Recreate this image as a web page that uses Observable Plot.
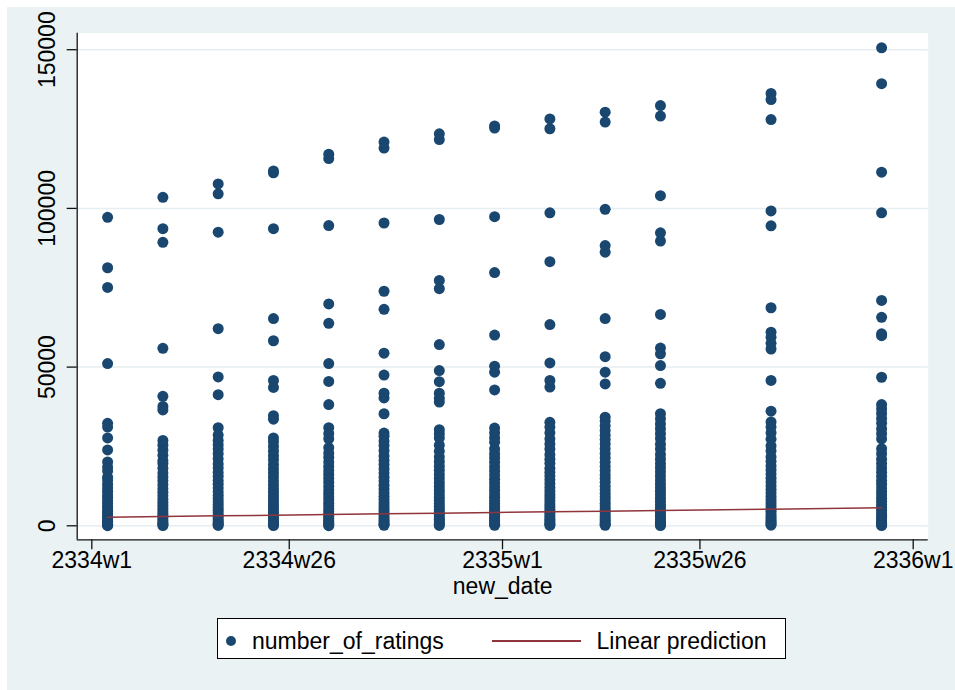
<!DOCTYPE html>
<html>
<head>
<meta charset="utf-8">
<script src="https://cdn.jsdelivr.net/npm/d3@7"></script>
<script src="https://cdn.jsdelivr.net/npm/@observablehq/plot@0.6"></script>
<style>
html, body { margin: 0; padding: 0; background: #ffffff; }
#page { position: relative; width: 955px; height: 690px; overflow: hidden; background: #ffffff;
        font-family: "Liberation Sans", Arial, sans-serif; color: #000; }
#chart { position: absolute; left: 7px; top: 7px; }
#chart svg { display: block; }
.lg-box { position: absolute; left: 217px; top: 618px; width: 567px; height: 39px;
          border: 1.5px solid #000; background: #fff; }
.lg-dot { position: absolute; left: 225.6px; top: 635.5px; width: 10px; height: 10px;
          border-radius: 50%; background: #1a476f; }
.lg-line { position: absolute; left: 492px; top: 640px; width: 89px; height: 1.5px; background: #90353b; }
.lg-text { position: absolute; top: 630px; font-size: 23px; line-height: 23px; white-space: nowrap; }
</style>
</head>
<body>
<div id="page">
  <div id="chart"></div>
  <div class="lg-box"></div>
  <div class="lg-dot"></div>
  <div class="lg-text" id="lg1" style="left:252px"></div>
  <div class="lg-line"></div>
  <div class="lg-text" id="lg2" style="left:596.5px"></div>
</div>
<script>
// ---- data ----
const seriesName = "number_of_ratings";
const fitName = "Linear prediction";
const xTitle = "new_date";

// Stata weekly dates, counted in weeks from 2334w1
const xTicks = [0, 25, 52, 77, 104];
const xTickLabels = ["2334w1", "2334w26", "2335w1", "2335w26", "2336w1"];
const yTicks = [0, 50000, 100000, 150000];
const xDomain = [-1.85, 105.9];
const yDomain = [-4411, 155200];

const weeks = [2, 9, 16, 23, 30, 37, 44, 51, 58, 65, 72, 86, 100];

const ratingsW2 = [97200, 81300, 75100, 51100, 32300, 31100, 27700, 23900, 20100, 18500, 17300, 15300, 14400, 13100, 12000, 10900, 9800, 8900, 7900, 7000, 6100, 5300, 4500, 3800, 3100, 2500, 1900, 1400, 900, 500, 200, 50];
const ratingsW9 = [103500, 93600, 89300, 55900, 40800, 37600, 36500, 26900, 25400, 23800, 22200, 20500, 19600, 18100, 16600, 15400, 14200, 12900, 11700, 10600, 9500, 8400, 7400, 6500, 5600, 4700, 3900, 3200, 2500, 1800, 1200, 700, 300, 80];
const ratingsW16 = [107700, 104600, 92500, 62100, 46900, 41300, 30900, 28600, 26900, 25500, 24200, 22700, 21100, 19500, 18200, 16800, 15600, 14300, 13100, 11900, 10700, 9600, 8600, 7600, 6700, 5800, 4900, 4100, 3300, 2600, 1900, 1300, 800, 400, 100];
const ratingsW23 = [111800, 111200, 93600, 65300, 58300, 45800, 43600, 34700, 33600, 27700, 26500, 25000, 23500, 22100, 20800, 19300, 17900, 16700, 15400, 14100, 12900, 11700, 10600, 9500, 8500, 7500, 6600, 5700, 4800, 4000, 3200, 2500, 1800, 1200, 700, 300, 60];
const ratingsW30 = [117100, 115700, 94600, 69900, 63800, 51100, 45500, 38200, 30900, 29000, 27400, 24600, 22900, 21600, 20100, 18700, 17400, 16200, 14900, 13700, 12500, 11300, 10200, 9100, 8100, 7100, 6200, 5300, 4500, 3700, 3000, 2300, 1700, 1100, 600, 250, 50];
const ratingsW37 = [120900, 119000, 95400, 73900, 68200, 54400, 47500, 41800, 40300, 35300, 29200, 28200, 26700, 25300, 23700, 22000, 20600, 19300, 18000, 16600, 15300, 14100, 12800, 11600, 10400, 9300, 8300, 7300, 6300, 5400, 4500, 3700, 2900, 2200, 1600, 1000, 500, 150];
const ratingsW44 = [123500, 121700, 96500, 77300, 74700, 57100, 48900, 45400, 41800, 40200, 39000, 30300, 29000, 27700, 25400, 23500, 21700, 20200, 18800, 17500, 16200, 14900, 13600, 12400, 11200, 10100, 9000, 8000, 7000, 6100, 5200, 4400, 3600, 2800, 2100, 1500, 900, 450, 100];
const ratingsW51 = [126000, 125300, 97400, 79800, 60100, 50300, 48400, 42800, 30800, 29300, 27700, 26300, 24200, 22700, 21400, 20000, 18600, 17300, 16000, 14700, 13500, 12300, 11100, 10000, 9000, 8000, 7000, 6100, 5200, 4400, 3600, 2900, 2200, 1600, 1000, 500, 150];
const ratingsW58 = [128200, 125100, 98600, 83200, 63400, 51300, 45800, 43700, 32600, 31100, 29300, 27400, 25800, 24200, 22400, 21000, 19700, 18100, 16900, 15700, 14500, 13300, 12100, 11000, 9900, 8900, 7900, 6900, 6000, 5100, 4300, 3500, 2800, 2100, 1500, 900, 450, 100];
const ratingsW65 = [130300, 127200, 99700, 88300, 86200, 65300, 53300, 48400, 44700, 34200, 33000, 31500, 30000, 28500, 27200, 25800, 24300, 22800, 21400, 20000, 18700, 17400, 16100, 14900, 13700, 12500, 11300, 10200, 9100, 8100, 7100, 6200, 5300, 4500, 3700, 2900, 2200, 1600, 1000, 500, 150];
const ratingsW72 = [132400, 129100, 104000, 92300, 89700, 66600, 56000, 54200, 50500, 44900, 35300, 33700, 32100, 30600, 29000, 27500, 25700, 24200, 22500, 21000, 19600, 18300, 17000, 15700, 14400, 13200, 12000, 10900, 9800, 8700, 7700, 6700, 5800, 4900, 4100, 3300, 2600, 1900, 1300, 800, 350, 80];
const ratingsW86 = [136200, 134300, 128000, 99200, 94500, 68700, 61000, 59400, 57500, 55700, 45800, 36100, 32700, 31100, 29300, 27300, 25200, 23600, 21700, 20300, 18900, 17600, 16300, 15000, 13800, 12600, 11400, 10300, 9200, 8200, 7200, 6300, 5400, 4600, 3800, 3000, 2300, 1700, 1100, 600, 200];
const ratingsW100 = [150600, 139300, 111400, 98600, 71000, 65700, 60500, 59900, 46800, 38200, 36800, 35400, 33800, 32300, 30600, 29000, 27400, 24300, 22700, 21000, 19600, 18200, 16900, 15600, 14300, 13100, 11900, 10800, 9700, 8700, 7700, 6700, 5800, 4900, 4100, 3300, 2600, 1900, 1300, 800, 350, 80];

const predicted = [2710, 2920, 3130, 3340, 3560, 3770, 3980, 4190, 4400, 4610, 4820, 5250, 5670];

// ---- build tables ----
const columns = [ratingsW2, ratingsW9, ratingsW16, ratingsW23, ratingsW30, ratingsW37, ratingsW44,
                 ratingsW51, ratingsW58, ratingsW65, ratingsW72, ratingsW86, ratingsW100];
const points = weeks.flatMap((w, i) => columns[i].map(v => ({week: w, ratings: v})));
const fit = weeks.map((w, i) => ({week: w, pred: predicted[i]}));

document.getElementById("lg1").textContent = seriesName;
document.getElementById("lg2").textContent = fitName;

const font = "Liberation Sans, Arial, sans-serif";
const chart = Plot.plot({
  width: 948,
  height: 683,
  marginLeft: 69.7,
  marginRight: 27.3,
  marginTop: 25.7,
  marginBottom: 150.7,
  x: {domain: xDomain},
  y: {domain: yDomain},
  style: {fontFamily: font, fontSize: "23px", color: "#000", background: "#eaf2f3", overflow: "visible"},
  marks: [
    Plot.frame({fill: "#ffffff", stroke: "none"}),
    Plot.gridY(yTicks, {stroke: "#e6eef1", strokeOpacity: 1, strokeWidth: 1.5}),
    Plot.dot(points, {x: "week", y: "ratings", r: 5.5, fill: "#1a476f", stroke: "none"}),
    Plot.line(fit, {x: "week", y: "pred", stroke: "#90353b", strokeWidth: 1.5}),
    Plot.ruleX([xDomain[0]], {stroke: "#111", strokeWidth: 1.3}),
    Plot.ruleY([yDomain[0]], {stroke: "#111", strokeWidth: 1.3}),
    Plot.axisY({ticks: yTicks, tickSize: 10, tickPadding: 11.7, tickRotate: -90,
                textAnchor: "middle", lineAnchor: "bottom", tickFormat: d3.format("d"),
                fontSize: 23, stroke: "#111", strokeWidth: 1.3, label: null}),
    Plot.axisX({ticks: xTicks, tickSize: 10, tickPadding: 1.5,
                tickFormat: d => xTickLabels[xTicks.indexOf(d)],
                fontSize: 23, stroke: "#111", strokeWidth: 1.3, label: null}),
    Plot.text([xTitle], {text: d => d, frameAnchor: "bottom", dy: 54.2, lineAnchor: "bottom", fontSize: 23, fill: "#000"})
  ]
});
document.getElementById("chart").appendChild(chart);
</script>
</body>
</html>
